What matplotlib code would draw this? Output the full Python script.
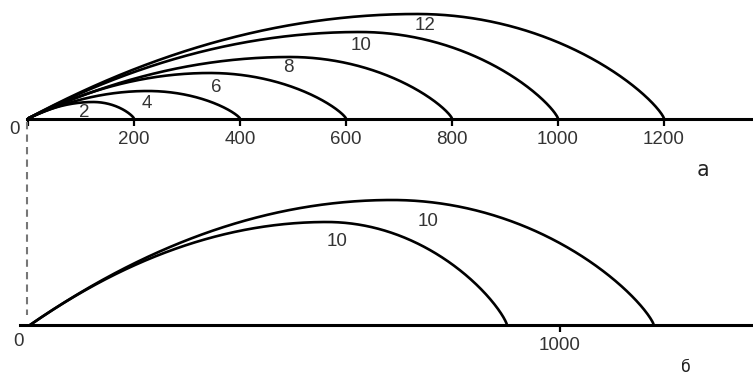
import numpy as np
import matplotlib
matplotlib.use("Agg")
import matplotlib.pyplot as plt

# ---- data (panel a) ----
top_labels = ["2", "4", "6", "8", "10", "12"]
top_range = [200, 400, 600, 800, 1000, 1200]       # landing distance
top_apex_x = [123, 226, 343, 494, 626, 734]        # distance of apex
top_apex_h = [16.5, 27.5, 45.5, 61.5, 86.5, 104.5]  # apex height
top_ticks = [0, 200, 400, 600, 800, 1000, 1200]
top_ticklabels = ["", "200", "400", "600", "800", "1000", "1200"]

# ---- data (panel б) ----
bot_labels = ["10", "10"]
bot_range = [1177, 900]
bot_apex_x = [683, 560]
bot_apex_h = [125, 103]
bot_ticks = [1000]
bot_ticklabels = ["1000"]

# ---- styles / positions ----
P = 0.8
top_label_pos = [(106, 6), (224, 14.5), (355, 31.5), (491, 50.5), (628, 72.5), (749, 93.5)]
bot_label_pos = [(751, 103), (579, 83)]
TXT = "#333333"
FS = 13.5


def arc(R, xa, H, n=300):
    x1 = np.linspace(0, xa, n)
    y1 = H * (1 - (1 - x1 / xa) ** 2)
    x2 = np.linspace(xa, R, n)
    y2 = H * np.clip(1 - ((x2 - xa) / (R - xa)) ** 2, 0, None) ** P
    return np.concatenate([x1, x2]), np.concatenate([y1, y2])


W, Hh = 753, 377
fig = plt.figure(figsize=(W / 100, Hh / 100), dpi=100)
plt.rcParams["font.family"] = ["Liberation Sans", "DejaVu Sans"]

k = 0.53
ax1 = fig.add_axes([0, 1 - 188 / Hh, 1, 188 / Hh])
ax1.set_xlim(-28 / k, (W - 28) / k)
ax1.set_ylim(-(188 - 118.5), 118.5)
ax2 = fig.add_axes([0, 0, 1, 189 / Hh])
ax2.set_xlim(-30 / k, (W - 30) / k)
ax2.set_ylim(-(377 - 325), 325 - 188)

for ax in (ax1, ax2):
    ax.patch.set_alpha(0)
    for s in ("top", "left", "right"):
        ax.spines[s].set_visible(False)
    ax.spines["bottom"].set_position(("data", 0))
    ax.spines["bottom"].set_linewidth(2.2)
    ax.set_yticks([])
    ax.tick_params(axis="x", direction="out", length=5, width=1.6,
                   labelsize=FS, labelcolor=TXT, pad=4)

ax1.spines["bottom"].set_bounds(-2, (W - 28) / k)
ax2.spines["bottom"].set_bounds(-18, (W - 30) / k)

ax1.set_xticks(top_ticks, top_ticklabels)
ax2.set_xticks(bot_ticks, bot_ticklabels)

for R, xa, H in zip(top_range, top_apex_x, top_apex_h):
    x, y = arc(R, xa, H)
    ax1.plot(x, y, color="black", lw=1.9, solid_capstyle="butt")
for lab, (lx, ly) in zip(top_labels, top_label_pos):
    ax1.text(lx, ly, lab, ha="center", va="center", fontsize=FS, color=TXT)

for R, xa, H in zip(bot_range, bot_apex_x, bot_apex_h):
    x, y = arc(R, xa, H)
    ax2.plot(x, y, color="black", lw=1.9, solid_capstyle="butt")
for lab, (lx, ly) in zip(bot_labels, bot_label_pos):
    ax2.text(lx, ly, lab, ha="center", va="center", fontsize=FS, color=TXT)

ax1.text(-26, -11.5, "0", ha="center", va="center", fontsize=FS, color=TXT)
ax2.text(-22.6, -16, "0", ha="center", va="center", fontsize=FS, color=TXT)

# dashed connector
ax1.plot([-2, -2], [-3, -196.5], color="#777777", lw=1.5,
         dashes=(3.5, 2.5), clip_on=False)

ax1.text(1274, -57, "a", ha="center", va="baseline", fontsize=15,
         family="DejaVu Sans Mono", color="#222222")
ax2.text(1238, -50.5, "б", ha="center", va="bottom", fontsize=12,
         family="DejaVu Sans Mono", color="#222222")

fig.savefig("out.png", dpi=100)
